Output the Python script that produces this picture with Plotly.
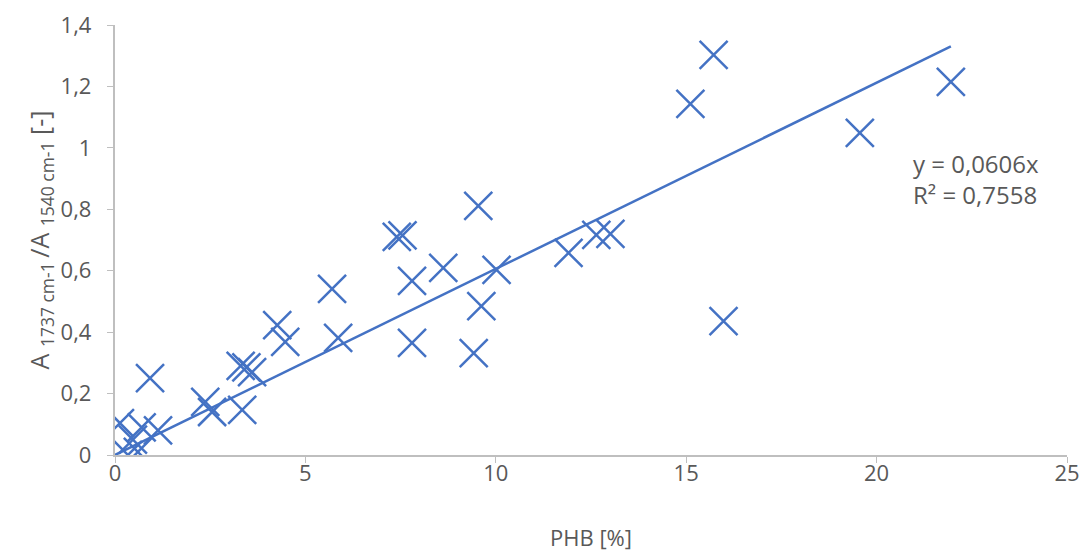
import plotly.graph_objects as go

phb = [0.13, 0.47, 0.70, 1.13, 0.34, 0.60, 0.92, 2.37, 2.55, 3.34, 3.30, 3.45, 3.60,
       4.26, 4.47, 5.70, 5.86, 7.40, 7.55, 7.80, 7.80, 8.62, 9.42, 9.54, 9.62, 10.02,
       11.91, 12.64, 13.01, 15.11, 15.72, 15.98, 19.56, 21.95]
ratio = [0.104, 0.05, 0.09, 0.08, 0.0, 0.01, 0.25, 0.173, 0.14, 0.147, 0.29, 0.285, 0.27,
         0.423, 0.368, 0.541, 0.381, 0.71, 0.715, 0.567, 0.365, 0.609, 0.332, 0.811, 0.485, 0.603,
         0.658, 0.717, 0.72, 1.143, 1.303, 0.436, 1.049, 1.215]
slope = 0.0606
r2_text = "R² = 0,7558"
eq_text = "y = 0,0606x"

color = "#4472C4"
gray = "#595959"
font_family = "Open Sans, Noto Sans, sans-serif"

x_line = [0, max(phb)]
y_line = [slope * v for v in x_line]

fig = go.Figure()
fig.add_trace(go.Scatter(x=x_line, y=y_line, mode="lines",
                         line=dict(color=color, width=2.5), hoverinfo="skip"))
fig.add_trace(go.Scatter(x=phb, y=ratio, mode="markers",
                         marker=dict(symbol="x-thin", size=28,
                                     line=dict(color=color, width=2.5), color=color)))

fig.add_annotation(x=20.9, y=0.9, xref="x", yref="y", text=eq_text + "<br>" + r2_text,
                   showarrow=False, xanchor="left", yanchor="middle", align="left",
                   font=dict(family=font_family, size=24, color=gray))

axis_common = dict(showgrid=False, zeroline=False, showline=True, linecolor="#BFBFBF",
                   linewidth=1.5, ticks="outside", tickcolor="#BFBFBF", ticklen=6,
                   automargin=False,
                   tickfont=dict(family=font_family, size=22, color=gray))

fig.update_layout(
    width=1087, height=553,
    margin=dict(l=107, r=28, t=17, b=106),
    plot_bgcolor="white", paper_bgcolor="white",
    showlegend=False,
    separators=", ",
    xaxis=dict(range=[0, 25], dtick=5, ticklabelstandoff=-8,
               title=dict(text="PHB [%]", standoff=44,
                          font=dict(family=font_family, size=22, color=gray)), **axis_common),
    yaxis=dict(range=[0, 1.4], dtick=0.2, ticksuffix="&nbsp;&nbsp;", title=dict(
        text="A <sub>1737 cm-1 </sub>/A <sub>1540 cm-1</sub> [-]", standoff=4,
        font=dict(family=font_family, size=25, color=gray)), **axis_common),
)

fig.write_html("out.html")
